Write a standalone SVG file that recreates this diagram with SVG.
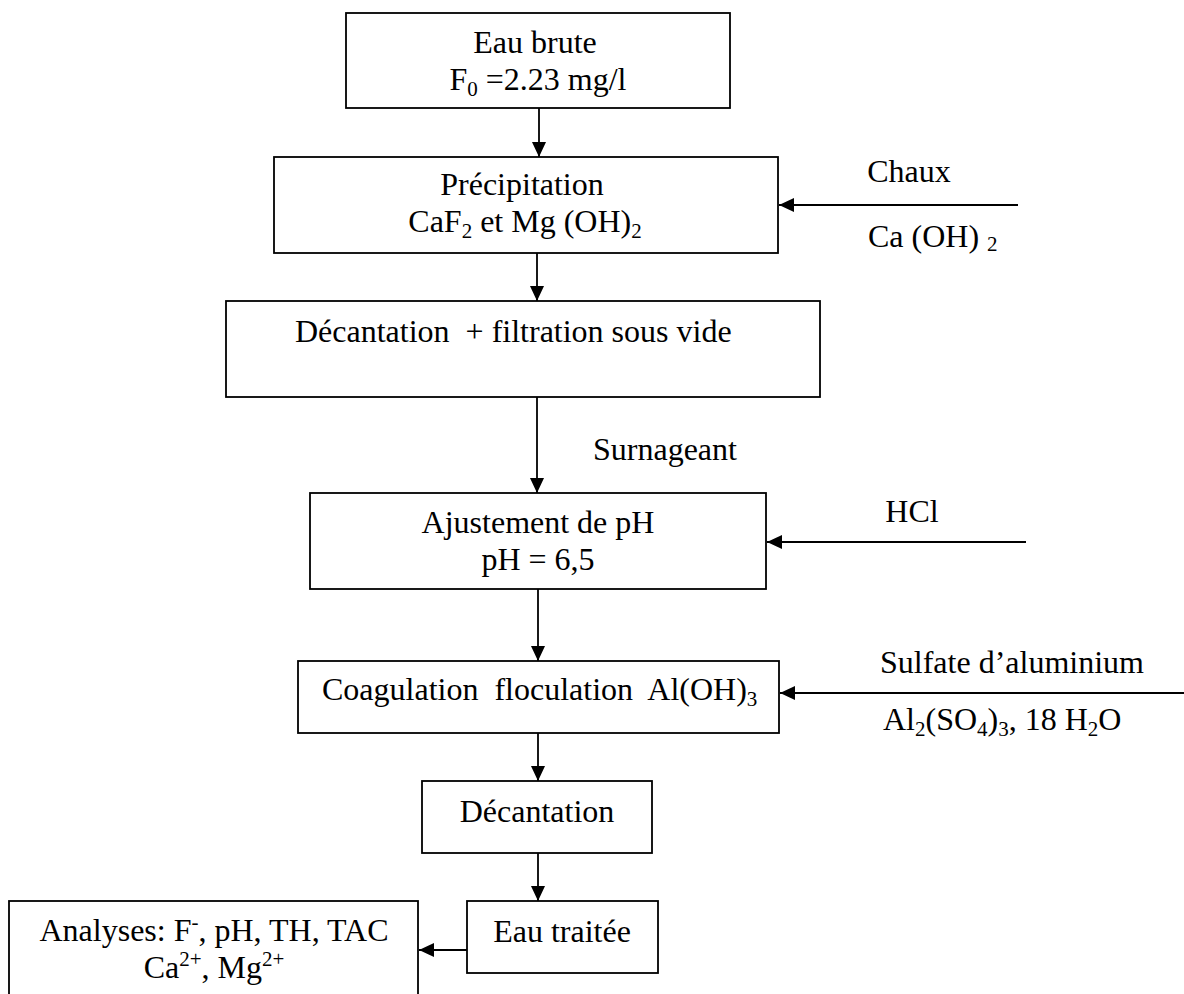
<svg xmlns="http://www.w3.org/2000/svg" width="1184" height="994" viewBox="0 0 1184 994">
<style>
.box{fill:#fff;stroke:#000;stroke-width:1.8}
.t{font-family:"Liberation Serif","Times New Roman",serif;font-size:32px;fill:#000}
.m{text-anchor:middle}
.c{stroke:#000;stroke-width:1.8;fill:none}
</style>
<defs>
<marker id="ah" viewBox="0 0 15 14" refX="15" refY="7" markerWidth="15" markerHeight="14" markerUnits="userSpaceOnUse" orient="auto">
<path d="M0,0 L15,7 L0,14 Z" fill="#000"/>
</marker>
</defs>
<rect width="1184" height="994" fill="#fff"/>
<g id="connectors">
<line class="c" x1="539" y1="108" x2="539" y2="157" marker-end="url(#ah)"/>
<line class="c" x1="537" y1="253" x2="537" y2="301" marker-end="url(#ah)"/>
<line class="c" x1="537" y1="397" x2="537" y2="493" marker-end="url(#ah)"/>
<line class="c" x1="538" y1="589" x2="538" y2="661" marker-end="url(#ah)"/>
<line class="c" x1="538" y1="733" x2="538" y2="781" marker-end="url(#ah)"/>
<line class="c" x1="538" y1="853" x2="538" y2="901" marker-end="url(#ah)"/>
<line class="c" x1="1018" y1="205" x2="779" y2="205" marker-end="url(#ah)"/>
<line class="c" x1="1026" y1="542" x2="767" y2="542" marker-end="url(#ah)"/>
<line class="c" x1="1184" y1="693" x2="780" y2="693" marker-end="url(#ah)"/>
<line class="c" x1="467" y1="950" x2="419" y2="950" marker-end="url(#ah)"/>
<text class="t" x="909" y="182" text-anchor="middle">Chaux</text>
<text class="t" x="868" y="247">Ca (OH) <tspan font-size="21" dy="4">2</tspan></text>
<text class="t" x="593" y="460">Surnageant</text>
<text class="t" x="912" y="522" text-anchor="middle">HCl</text>
<text class="t" x="880" y="673">Sulfate d’aluminium</text>
<text class="t" x="883" y="730">Al<tspan font-size="21" dy="6">2</tspan><tspan dy="-6">(SO</tspan><tspan font-size="21" dy="6">4</tspan><tspan dy="-6">)</tspan><tspan font-size="21" dy="6">3</tspan><tspan dy="-6">, 18 H</tspan><tspan font-size="21" dy="6">2</tspan><tspan dy="-6">O</tspan></text>
</g>
<g id="eau-brute">
<rect class="box" x="346" y="13" width="384" height="95" stroke-width="1.2"/>
<text class="t m" x="535" y="53">Eau brute</text>
<text class="t m" x="538" y="90">F<tspan font-size="21" dy="6">0</tspan><tspan dy="-6"> =2.23 mg/l</tspan></text>
</g>
<g id="precipitation">
<rect class="box" x="274" y="157" width="504" height="96"/>
<text class="t m" x="522" y="195">Précipitation</text>
<text class="t m" x="525" y="232">CaF<tspan font-size="21" dy="6">2</tspan><tspan dy="-6"> et Mg (OH)</tspan><tspan font-size="21" dy="6">2</tspan></text>
</g>
<g id="decantation-filtration">
<rect class="box" x="226" y="301" width="594" height="96"/>
<text class="t" x="295" y="342" xml:space="preserve">Décantation  + filtration sous vide</text>
</g>
<g id="ajustement">
<rect class="box" x="310" y="493" width="456" height="96"/>
<text class="t m" x="538" y="533">Ajustement de pH</text>
<text class="t m" x="538" y="570">pH = 6,5</text>
</g>
<g id="coagulation">
<rect class="box" x="298" y="661" width="481" height="72"/>
<text class="t" x="322" y="700" xml:space="preserve">Coagulation  floculation  Al(OH)<tspan font-size="21" dy="6">3</tspan></text>
</g>
<g id="decantation">
<rect class="box" x="422" y="781" width="230" height="72"/>
<text class="t m" x="537" y="822">Décantation</text>
</g>
<g id="eau-traitee">
<rect class="box" x="467" y="901" width="191" height="72"/>
<text class="t m" x="562" y="942">Eau traitée</text>
</g>
<g id="analyses">
<rect class="box" x="9" y="901" width="409" height="100"/>
<text class="t m" x="214" y="941">Analyses: F<tspan font-size="21" dy="-12">-</tspan><tspan dy="12">, pH, TH, TAC</tspan></text>
<text class="t m" x="214" y="978">Ca<tspan font-size="21" dy="-12">2+</tspan><tspan dy="12">, Mg</tspan><tspan font-size="21" dy="-12">2+</tspan></text>
</g>
</svg>
